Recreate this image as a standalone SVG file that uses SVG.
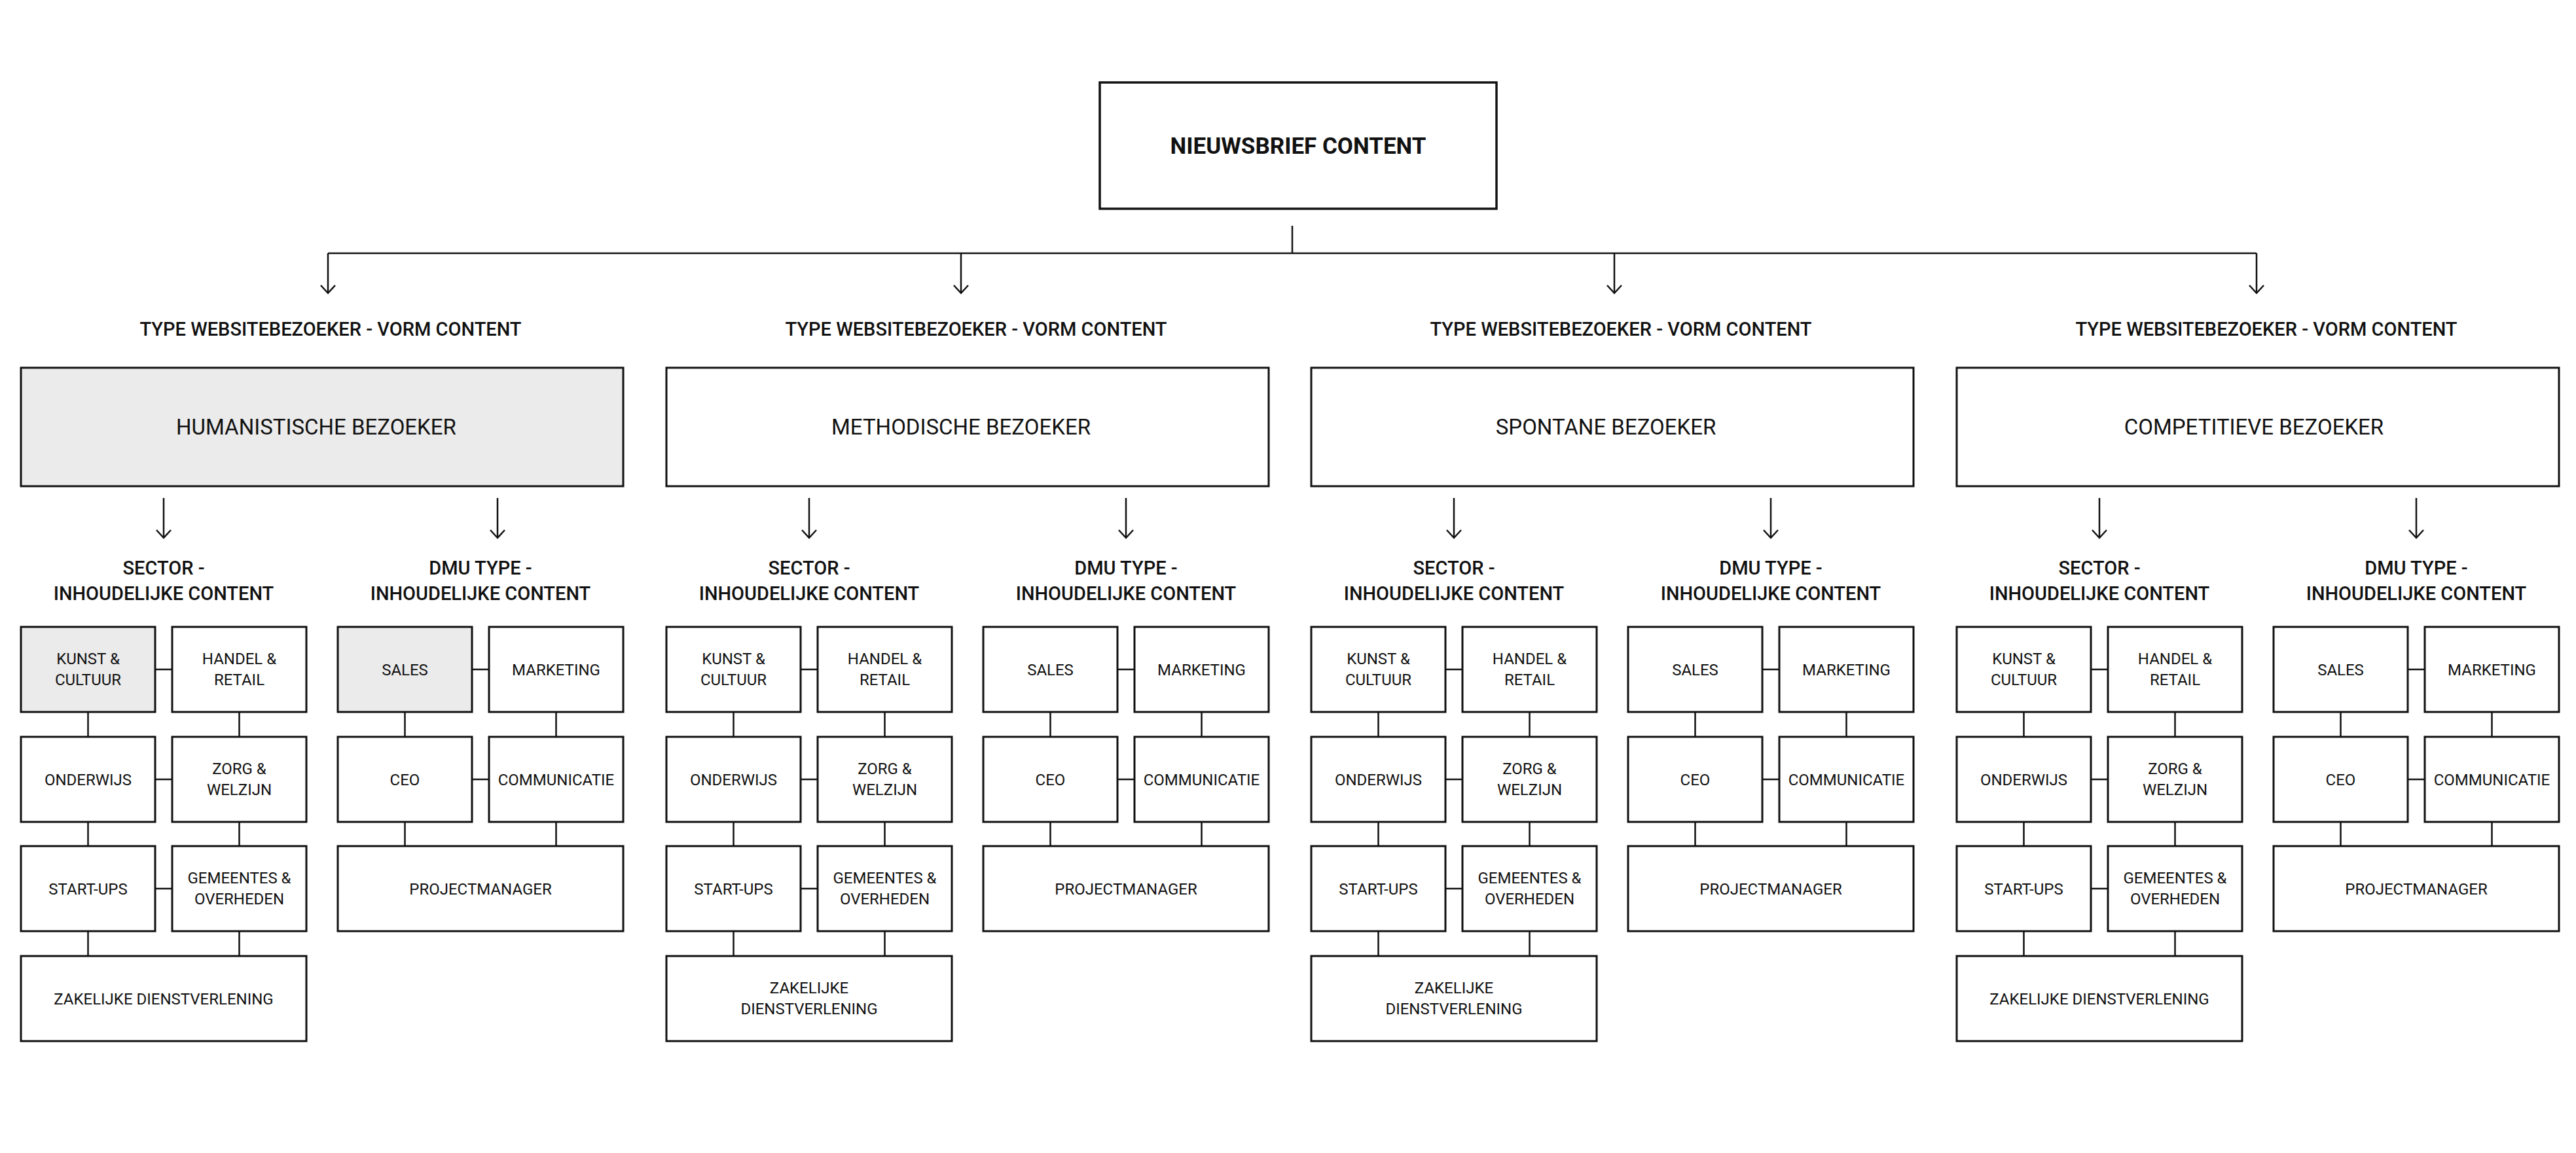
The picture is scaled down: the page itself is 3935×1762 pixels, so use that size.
<svg xmlns="http://www.w3.org/2000/svg" width="3935" height="1762" viewBox="0 0 3935 1762">
<style>
text{font-family:Roboto,"Liberation Sans",sans-serif;fill:#111;text-anchor:middle}
.box{fill:#fff;stroke:#111;stroke-width:3}
.grey{fill:#ebebeb}
.top{fill:#fff;stroke:#111;stroke-width:3.5}
.t-title{font-size:35px;font-weight:700}
.t-lab{font-size:29px;font-weight:500}
.t-vis{font-size:33px;font-weight:400}
.t-sm{font-size:24px;font-weight:400}
.ln{fill:none;stroke:#111;stroke-width:2.5}
.ah{fill:none;stroke:#111;stroke-width:2.5;stroke-linejoin:miter}
</style>
<rect width="3935" height="1762" fill="#fff"/>

<g id="connectors">
  <path class="ln" d="M1974 345V387M501 387H3447"/>
  <path class="ln" d="M501 387V447M1468 387V447M2466 387V447M3447 387V447"/>
  <path class="ah" d="M490 436L501 448L512 436M1457 436L1468 448L1479 436M2455 436L2466 448L2477 436M3436 436L3447 448L3458 436"/>
  <g transform="translate(32,0)">
    <path class="ln" d="M218 761V821M728 761V821"/>
    <path class="ah" d="M207 810L218 822L229 810M717 810L728 822L739 810"/>
    <path class="ln" d="M205 1023H231M205 1191H231M205 1358H231M689 1023H715M689 1191H715"/>
    <path class="ln" d="M102.5 1088V1126M333.5 1088V1126M102.5 1256V1293M333.5 1256V1293M102.5 1423V1461M333.5 1423V1461M586.5 1088V1126M817.5 1088V1126M586.5 1256V1293M817.5 1256V1293"/>
  </g>
  <g transform="translate(1018,0)">
    <path class="ln" d="M218 761V821M702 761V821"/>
    <path class="ah" d="M207 810L218 822L229 810M691 810L702 822L713 810"/>
    <path class="ln" d="M205 1023H231M205 1191H231M205 1358H231M689 1023H715M689 1191H715"/>
    <path class="ln" d="M102.5 1088V1126M333.5 1088V1126M102.5 1256V1293M333.5 1256V1293M102.5 1423V1461M333.5 1423V1461M586.5 1088V1126M817.5 1088V1126M586.5 1256V1293M817.5 1256V1293"/>
  </g>
  <g transform="translate(2003,0)">
    <path class="ln" d="M218 761V821M702 761V821"/>
    <path class="ah" d="M207 810L218 822L229 810M691 810L702 822L713 810"/>
    <path class="ln" d="M205 1023H231M205 1191H231M205 1358H231M689 1023H715M689 1191H715"/>
    <path class="ln" d="M102.5 1088V1126M333.5 1088V1126M102.5 1256V1293M333.5 1256V1293M102.5 1423V1461M333.5 1423V1461M586.5 1088V1126M817.5 1088V1126M586.5 1256V1293M817.5 1256V1293"/>
  </g>
  <g transform="translate(2989,0)">
    <path class="ln" d="M218 761V821M702 761V821"/>
    <path class="ah" d="M207 810L218 822L229 810M691 810L702 822L713 810"/>
    <path class="ln" d="M205 1023H231M205 1191H231M205 1358H231M689 1023H715M689 1191H715"/>
    <path class="ln" d="M102.5 1088V1126M333.5 1088V1126M102.5 1256V1293M333.5 1256V1293M102.5 1423V1461M333.5 1423V1461M586.5 1088V1126M817.5 1088V1126M586.5 1256V1293M817.5 1256V1293"/>
  </g>
</g>

<g id="nieuwsbrief-content">
  <rect class="top" x="1680" y="126" width="606" height="193"/>
  <text class="t-title" x="1983" y="235">NIEUWSBRIEF CONTENT</text>
</g>

<!-- Block 1 -->
<g id="block-humanistisch" transform="translate(32,0)">
  <g id="h-label"><text class="t-lab" x="473" y="513">TYPE WEBSITEBEZOEKER - VORM CONTENT</text></g>
  <g id="h-visitor"><rect class="box grey" x="0" y="562" width="920" height="181"/><text class="t-vis" x="451" y="664">HUMANISTISCHE BEZOEKER</text></g>
  <g id="h-sector-label"><text class="t-lab" x="218" y="878">SECTOR -</text><text class="t-lab" x="218" y="917">INHOUDELIJKE CONTENT</text></g>
  <g id="h-dmu-label"><text class="t-lab" x="702" y="878">DMU TYPE -</text><text class="t-lab" x="702" y="917">INHOUDELIJKE CONTENT</text></g>
  <g id="h-kunst"><rect class="box grey" x="0" y="958" width="205" height="130"/><text class="t-sm" x="102.5" y="1015">KUNST &amp;</text><text class="t-sm" x="102.5" y="1047">CULTUUR</text></g>
  <g id="h-handel"><rect class="box" x="231" y="958" width="205" height="130"/><text class="t-sm" x="333.5" y="1015">HANDEL &amp;</text><text class="t-sm" x="333.5" y="1047">RETAIL</text></g>
  <g id="h-onderwijs"><rect class="box" x="0" y="1126" width="205" height="130"/><text class="t-sm" x="102.5" y="1199.5">ONDERWIJS</text></g>
  <g id="h-zorg"><rect class="box" x="231" y="1126" width="205" height="130"/><text class="t-sm" x="333.5" y="1183">ZORG &amp;</text><text class="t-sm" x="333.5" y="1215">WELZIJN</text></g>
  <g id="h-startups"><rect class="box" x="0" y="1293" width="205" height="130"/><text class="t-sm" x="102.5" y="1366.5">START-UPS</text></g>
  <g id="h-gemeentes"><rect class="box" x="231" y="1293" width="205" height="130"/><text class="t-sm" x="333.5" y="1350">GEMEENTES &amp;</text><text class="t-sm" x="333.5" y="1382">OVERHEDEN</text></g>
  <g id="h-zakelijk"><rect class="box" x="0" y="1461" width="436" height="130"/><text class="t-sm" x="218" y="1534.5">ZAKELIJKE DIENSTVERLENING</text></g>
  <g id="h-sales"><rect class="box grey" x="484" y="958" width="205" height="130"/><text class="t-sm" x="586.5" y="1031.5">SALES</text></g>
  <g id="h-marketing"><rect class="box" x="715" y="958" width="205" height="130"/><text class="t-sm" x="817.5" y="1031.5">MARKETING</text></g>
  <g id="h-ceo"><rect class="box" x="484" y="1126" width="205" height="130"/><text class="t-sm" x="586.5" y="1199.5">CEO</text></g>
  <g id="h-communicatie"><rect class="box" x="715" y="1126" width="205" height="130"/><text class="t-sm" x="817.5" y="1199.5">COMMUNICATIE</text></g>
  <g id="h-projectmanager"><rect class="box" x="484" y="1293" width="436" height="130"/><text class="t-sm" x="702" y="1366.5">PROJECTMANAGER</text></g>
</g>

<!-- Block 2 -->
<g id="block-methodisch" transform="translate(1018,0)">
  <g id="m-label"><text class="t-lab" x="473" y="513">TYPE WEBSITEBEZOEKER - VORM CONTENT</text></g>
  <g id="m-visitor"><rect class="box" x="0" y="562" width="920" height="181"/><text class="t-vis" x="450" y="664">METHODISCHE BEZOEKER</text></g>
  <g id="m-sector-label"><text class="t-lab" x="218" y="878">SECTOR -</text><text class="t-lab" x="218" y="917">INHOUDELIJKE CONTENT</text></g>
  <g id="m-dmu-label"><text class="t-lab" x="702" y="878">DMU TYPE -</text><text class="t-lab" x="702" y="917">INHOUDELIJKE CONTENT</text></g>
  <g id="m-kunst"><rect class="box" x="0" y="958" width="205" height="130"/><text class="t-sm" x="102.5" y="1015">KUNST &amp;</text><text class="t-sm" x="102.5" y="1047">CULTUUR</text></g>
  <g id="m-handel"><rect class="box" x="231" y="958" width="205" height="130"/><text class="t-sm" x="333.5" y="1015">HANDEL &amp;</text><text class="t-sm" x="333.5" y="1047">RETAIL</text></g>
  <g id="m-onderwijs"><rect class="box" x="0" y="1126" width="205" height="130"/><text class="t-sm" x="102.5" y="1199.5">ONDERWIJS</text></g>
  <g id="m-zorg"><rect class="box" x="231" y="1126" width="205" height="130"/><text class="t-sm" x="333.5" y="1183">ZORG &amp;</text><text class="t-sm" x="333.5" y="1215">WELZIJN</text></g>
  <g id="m-startups"><rect class="box" x="0" y="1293" width="205" height="130"/><text class="t-sm" x="102.5" y="1366.5">START-UPS</text></g>
  <g id="m-gemeentes"><rect class="box" x="231" y="1293" width="205" height="130"/><text class="t-sm" x="333.5" y="1350">GEMEENTES &amp;</text><text class="t-sm" x="333.5" y="1382">OVERHEDEN</text></g>
  <g id="m-zakelijk"><rect class="box" x="0" y="1461" width="436" height="130"/><text class="t-sm" x="218" y="1518">ZAKELIJKE</text><text class="t-sm" x="218" y="1550">DIENSTVERLENING</text></g>
  <g id="m-sales"><rect class="box" x="484" y="958" width="205" height="130"/><text class="t-sm" x="586.5" y="1031.5">SALES</text></g>
  <g id="m-marketing"><rect class="box" x="715" y="958" width="205" height="130"/><text class="t-sm" x="817.5" y="1031.5">MARKETING</text></g>
  <g id="m-ceo"><rect class="box" x="484" y="1126" width="205" height="130"/><text class="t-sm" x="586.5" y="1199.5">CEO</text></g>
  <g id="m-communicatie"><rect class="box" x="715" y="1126" width="205" height="130"/><text class="t-sm" x="817.5" y="1199.5">COMMUNICATIE</text></g>
  <g id="m-projectmanager"><rect class="box" x="484" y="1293" width="436" height="130"/><text class="t-sm" x="702" y="1366.5">PROJECTMANAGER</text></g>
</g>

<!-- Block 3 -->
<g id="block-spontaan" transform="translate(2003,0)">
  <g id="s-label"><text class="t-lab" x="473" y="513">TYPE WEBSITEBEZOEKER - VORM CONTENT</text></g>
  <g id="s-visitor"><rect class="box" x="0" y="562" width="920" height="181"/><text class="t-vis" x="450" y="664">SPONTANE BEZOEKER</text></g>
  <g id="s-sector-label"><text class="t-lab" x="218" y="878">SECTOR -</text><text class="t-lab" x="218" y="917">INHOUDELIJKE CONTENT</text></g>
  <g id="s-dmu-label"><text class="t-lab" x="702" y="878">DMU TYPE -</text><text class="t-lab" x="702" y="917">INHOUDELIJKE CONTENT</text></g>
  <g id="s-kunst"><rect class="box" x="0" y="958" width="205" height="130"/><text class="t-sm" x="102.5" y="1015">KUNST &amp;</text><text class="t-sm" x="102.5" y="1047">CULTUUR</text></g>
  <g id="s-handel"><rect class="box" x="231" y="958" width="205" height="130"/><text class="t-sm" x="333.5" y="1015">HANDEL &amp;</text><text class="t-sm" x="333.5" y="1047">RETAIL</text></g>
  <g id="s-onderwijs"><rect class="box" x="0" y="1126" width="205" height="130"/><text class="t-sm" x="102.5" y="1199.5">ONDERWIJS</text></g>
  <g id="s-zorg"><rect class="box" x="231" y="1126" width="205" height="130"/><text class="t-sm" x="333.5" y="1183">ZORG &amp;</text><text class="t-sm" x="333.5" y="1215">WELZIJN</text></g>
  <g id="s-startups"><rect class="box" x="0" y="1293" width="205" height="130"/><text class="t-sm" x="102.5" y="1366.5">START-UPS</text></g>
  <g id="s-gemeentes"><rect class="box" x="231" y="1293" width="205" height="130"/><text class="t-sm" x="333.5" y="1350">GEMEENTES &amp;</text><text class="t-sm" x="333.5" y="1382">OVERHEDEN</text></g>
  <g id="s-zakelijk"><rect class="box" x="0" y="1461" width="436" height="130"/><text class="t-sm" x="218" y="1518">ZAKELIJKE</text><text class="t-sm" x="218" y="1550">DIENSTVERLENING</text></g>
  <g id="s-sales"><rect class="box" x="484" y="958" width="205" height="130"/><text class="t-sm" x="586.5" y="1031.5">SALES</text></g>
  <g id="s-marketing"><rect class="box" x="715" y="958" width="205" height="130"/><text class="t-sm" x="817.5" y="1031.5">MARKETING</text></g>
  <g id="s-ceo"><rect class="box" x="484" y="1126" width="205" height="130"/><text class="t-sm" x="586.5" y="1199.5">CEO</text></g>
  <g id="s-communicatie"><rect class="box" x="715" y="1126" width="205" height="130"/><text class="t-sm" x="817.5" y="1199.5">COMMUNICATIE</text></g>
  <g id="s-projectmanager"><rect class="box" x="484" y="1293" width="436" height="130"/><text class="t-sm" x="702" y="1366.5">PROJECTMANAGER</text></g>
</g>

<!-- Block 4 -->
<g id="block-competitief" transform="translate(2989,0)">
  <g id="c-label"><text class="t-lab" x="473" y="513">TYPE WEBSITEBEZOEKER - VORM CONTENT</text></g>
  <g id="c-visitor"><rect class="box" x="0" y="562" width="920" height="181"/><text class="t-vis" x="454" y="664">COMPETITIEVE BEZOEKER</text></g>
  <g id="c-sector-label"><text class="t-lab" x="218" y="878">SECTOR -</text><text class="t-lab" x="218" y="917">INHOUDELIJKE CONTENT</text></g>
  <g id="c-dmu-label"><text class="t-lab" x="702" y="878">DMU TYPE -</text><text class="t-lab" x="702" y="917">INHOUDELIJKE CONTENT</text></g>
  <g id="c-kunst"><rect class="box" x="0" y="958" width="205" height="130"/><text class="t-sm" x="102.5" y="1015">KUNST &amp;</text><text class="t-sm" x="102.5" y="1047">CULTUUR</text></g>
  <g id="c-handel"><rect class="box" x="231" y="958" width="205" height="130"/><text class="t-sm" x="333.5" y="1015">HANDEL &amp;</text><text class="t-sm" x="333.5" y="1047">RETAIL</text></g>
  <g id="c-onderwijs"><rect class="box" x="0" y="1126" width="205" height="130"/><text class="t-sm" x="102.5" y="1199.5">ONDERWIJS</text></g>
  <g id="c-zorg"><rect class="box" x="231" y="1126" width="205" height="130"/><text class="t-sm" x="333.5" y="1183">ZORG &amp;</text><text class="t-sm" x="333.5" y="1215">WELZIJN</text></g>
  <g id="c-startups"><rect class="box" x="0" y="1293" width="205" height="130"/><text class="t-sm" x="102.5" y="1366.5">START-UPS</text></g>
  <g id="c-gemeentes"><rect class="box" x="231" y="1293" width="205" height="130"/><text class="t-sm" x="333.5" y="1350">GEMEENTES &amp;</text><text class="t-sm" x="333.5" y="1382">OVERHEDEN</text></g>
  <g id="c-zakelijk"><rect class="box" x="0" y="1461" width="436" height="130"/><text class="t-sm" x="218" y="1534.5">ZAKELIJKE DIENSTVERLENING</text></g>
  <g id="c-sales"><rect class="box" x="484" y="958" width="205" height="130"/><text class="t-sm" x="586.5" y="1031.5">SALES</text></g>
  <g id="c-marketing"><rect class="box" x="715" y="958" width="205" height="130"/><text class="t-sm" x="817.5" y="1031.5">MARKETING</text></g>
  <g id="c-ceo"><rect class="box" x="484" y="1126" width="205" height="130"/><text class="t-sm" x="586.5" y="1199.5">CEO</text></g>
  <g id="c-communicatie"><rect class="box" x="715" y="1126" width="205" height="130"/><text class="t-sm" x="817.5" y="1199.5">COMMUNICATIE</text></g>
  <g id="c-projectmanager"><rect class="box" x="484" y="1293" width="436" height="130"/><text class="t-sm" x="702" y="1366.5">PROJECTMANAGER</text></g>
</g>
</svg>
